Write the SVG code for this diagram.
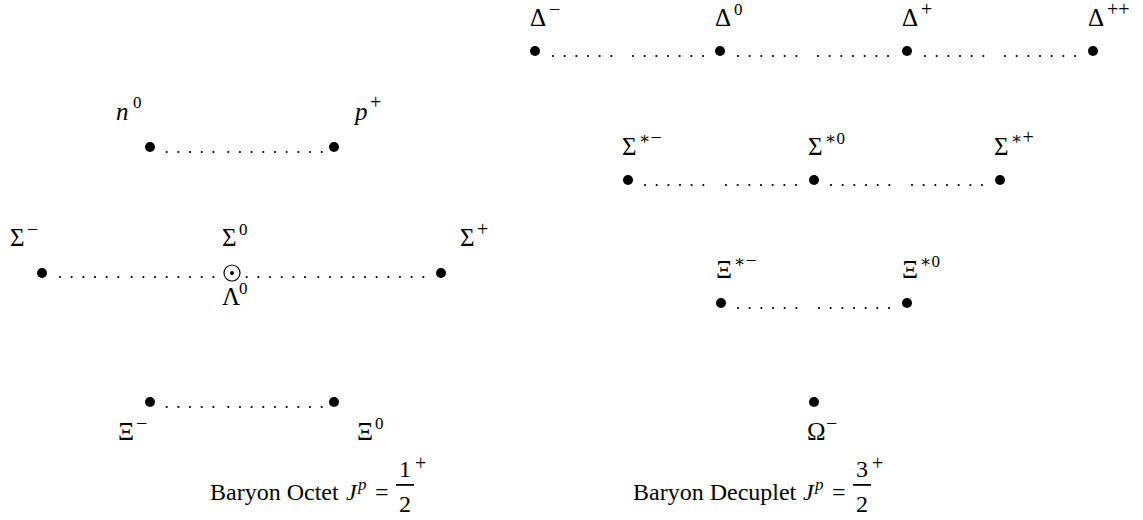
<svg xmlns="http://www.w3.org/2000/svg" width="1143" height="520" viewBox="0 0 1143 520">
<style>
text{font-family:"Liberation Serif","DejaVu Serif",serif;fill:#000;font-size:25px}
.it{font-style:italic}
.sup{font-size:17px}
.sg{font-size:20px}
.cap{font-size:24px}
.dot{fill:#000}
.conn{fill:none;stroke:#000;stroke-width:2.2;stroke-linecap:round;stroke-dasharray:0 11.67}
</style>
<rect width="1143" height="520" fill="#fff"/>
<g id="connectors">
<path class="conn" d="M166.7 152H215M228.3 152H323"/>
<path class="conn" d="M60 277H120M131.7 277H215M246.7 277H306M318.3 277H432"/>
<path class="conn" d="M166.7 407H215M228.3 407H323"/>
<path class="conn" d="M553 56H613M633 56H705"/>
<path class="conn" d="M738 56H798M818 56H890"/>
<path class="conn" d="M925 56H985M1005 56H1077"/>
<path class="conn" d="M645 185H705M726 185H798"/>
<path class="conn" d="M831 185H891M912 185H984"/>
<path class="conn" d="M738 308H798M819 308H891"/>
</g>
<g id="n0"><circle class="dot" cx="150" cy="147" r="5"/><text class="it" x="116" y="120">n</text><text class="sup" x="133" y="108">0</text></g>
<g id="pplus"><circle class="dot" cx="334" cy="147" r="5"/><text class="it" x="355" y="120">p</text><text class="sup sg" x="370" y="109">+</text></g>
<g id="sigma-minus"><circle class="dot" cx="42" cy="273" r="5"/><text x="10" y="246">Σ</text><text class="sup sg" x="27" y="236">−</text></g>
<g id="sigma0-lambda0"><circle cx="232" cy="273" r="8" fill="none" stroke="#000" stroke-width="1.2"/><circle class="dot" cx="232" cy="273" r="2"/><text x="222" y="246">Σ</text><text class="sup" x="239" y="235">0</text><text x="222" y="305">Λ</text><text class="sup" x="239" y="294">0</text></g>
<g id="sigma-plus"><circle class="dot" cx="441" cy="273" r="5"/><text x="460" y="246">Σ</text><text class="sup sg" x="477" y="236">+</text></g>
<g id="xi-minus"><circle class="dot" cx="150" cy="402" r="5"/><text x="118" y="440">Ξ</text><text class="sup sg" x="136" y="430">−</text></g>
<g id="xi0"><circle class="dot" cx="334" cy="402" r="5"/><text x="357" y="440">Ξ</text><text class="sup" x="375" y="429">0</text></g>
<g id="octet-caption"><text class="cap" x="210" y="500">Baryon Octet</text><text class="cap it" x="346" y="500">J</text><text class="it sup" x="358" y="490">p</text><text class="cap" x="375" y="500">=</text><text class="cap" x="399" y="477">1</text><rect x="396" y="484" width="18" height="1.8"/><text class="cap" x="399" y="512">2</text><text class="sup sg" x="415" y="470">+</text></g>
<g id="delta-minus"><circle class="dot" cx="535" cy="51" r="5"/><text x="530" y="26">Δ</text><text class="sup sg" x="549" y="16">−</text></g>
<g id="delta0"><circle class="dot" cx="720" cy="51" r="5"/><text x="715" y="26">Δ</text><text class="sup" x="734" y="15">0</text></g>
<g id="delta-plus"><circle class="dot" cx="907" cy="51" r="5"/><text x="902" y="26">Δ</text><text class="sup sg" x="921" y="16">+</text></g>
<g id="delta-plusplus"><circle class="dot" cx="1093" cy="51" r="5"/><text x="1088" y="26">Δ</text><text class="sup sg" x="1107" y="16">++</text></g>
<g id="sigmastar-minus"><circle class="dot" cx="628" cy="180" r="5"/><text x="622" y="155">Σ</text><text class="sup" x="639" y="144">∗<tspan class="sg">−</tspan></text></g>
<g id="sigmastar0"><circle class="dot" cx="814" cy="180" r="5"/><text x="808" y="155">Σ</text><text class="sup" x="825" y="144">∗0</text></g>
<g id="sigmastar-plus"><circle class="dot" cx="1000" cy="180" r="5"/><text x="994" y="155">Σ</text><text class="sup" x="1011" y="144">∗<tspan class="sg">+</tspan></text></g>
<g id="xistar-minus"><circle class="dot" cx="721" cy="303" r="5"/><text x="716" y="278">Ξ</text><text class="sup" x="734" y="267">∗<tspan class="sg">−</tspan></text></g>
<g id="xistar0"><circle class="dot" cx="907" cy="303" r="5"/><text x="902" y="278">Ξ</text><text class="sup" x="920" y="267">∗0</text></g>
<g id="omega-minus"><circle class="dot" cx="814" cy="402" r="5"/><text x="807" y="440">Ω</text><text class="sup sg" x="826" y="430">−</text></g>
<g id="decuplet-caption"><text class="cap" x="633" y="500">Baryon Decuplet</text><text class="cap it" x="803" y="500">J</text><text class="it sup" x="815" y="490">p</text><text class="cap" x="832" y="500">=</text><text class="cap" x="856" y="477">3</text><rect x="853" y="484" width="18" height="1.8"/><text class="cap" x="856" y="512">2</text><text class="sup sg" x="872" y="470">+</text></g>
</svg>
